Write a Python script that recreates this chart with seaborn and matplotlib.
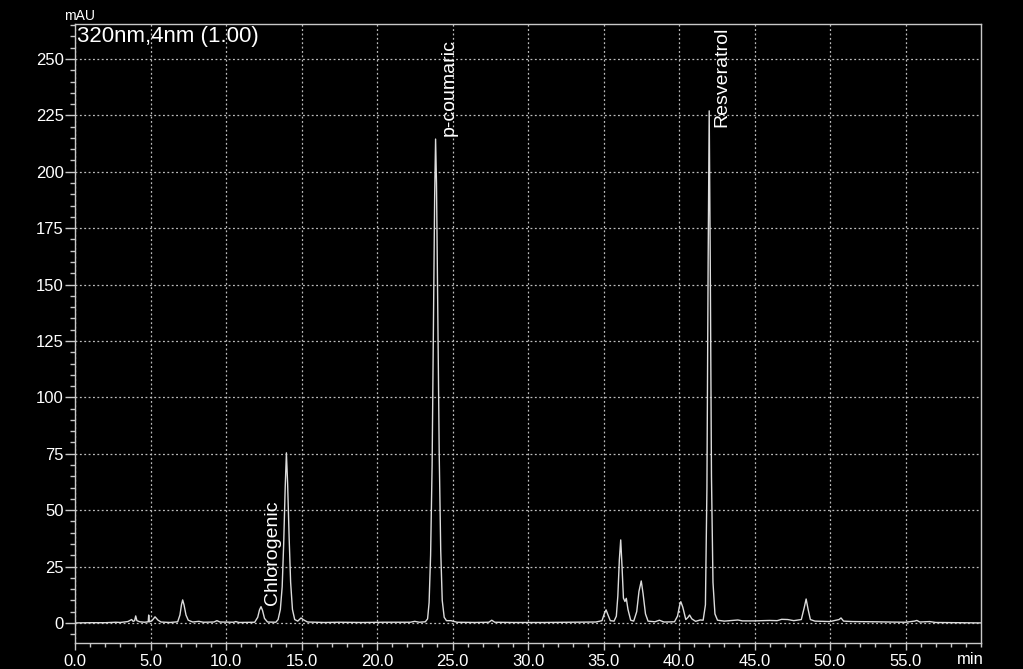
import matplotlib
matplotlib.use("Agg")
import matplotlib.pyplot as plt
import seaborn as sns
import pandas as pd
from matplotlib.ticker import MultipleLocator, FixedLocator, FixedFormatter

# ---- data ----
time_min = [
    0.0, 1.0, 2.0, 2.7, 3.0, 3.5, 3.75, 3.85, 3.95, 4.02, 4.1, 4.3, 4.6, 4.85, 4.88, 4.92,
    5.1, 5.3, 5.5, 5.7, 6.3, 6.8, 6.95, 7.05, 7.13, 7.22, 7.35, 7.5, 7.8, 8.2, 8.5, 9.2,
    9.4, 9.6, 10.5, 10.65, 10.85, 11.9, 12.1, 12.22, 12.32, 12.42, 12.55, 12.75, 13.3, 13.45,
    13.6, 13.72, 13.82, 13.92, 14.0, 14.08, 14.18, 14.28, 14.4, 14.55, 14.75, 14.9, 14.97, 15.1,
    15.4, 16.5, 17.5, 19.0, 20.5, 22.2, 22.5, 22.8, 23.2, 23.35, 23.45, 23.55, 23.65, 23.75,
    23.82, 23.88, 23.94, 24.02, 24.12, 24.22, 24.32, 24.45, 24.6, 24.9, 25.3, 26.5, 27.4, 27.6,
    27.8, 29.0, 31.0, 33.0, 34.5, 34.9, 35.05, 35.17, 35.3, 35.45, 35.7, 35.85, 35.95, 36.05,
    36.14, 36.22, 36.32, 36.42, 36.51, 36.62, 36.8, 37.0, 37.2, 37.35, 37.5, 37.62, 37.78, 37.95,
    38.4, 38.7, 39.0, 39.7, 39.9, 40.05, 40.12, 40.25, 40.45, 40.6, 40.7, 40.85, 41.1, 41.4,
    41.6, 41.75, 41.85, 41.93, 42.0, 42.07, 42.15, 42.25, 42.38, 42.55, 43.0, 43.9, 44.2, 45.0,
    46.0, 46.5, 46.8, 47.2, 47.6, 48.1, 48.3, 48.42, 48.55, 48.7, 49.0, 50.0, 50.6, 50.73,
    50.9, 51.5, 53.0, 55.0, 55.6, 55.75, 55.95, 56.6, 57.0, 58.5, 60.0,
]
absorbance_mau = [
    0.0, 0.1, 0.1, 0.3, 0.2, 0.6, 1.5, 0.7, 1.0, 3.1, 1.0, 0.5, 0.3, 0.5, 3.5, 0.5,
    1.0, 2.7, 1.2, 0.4, 0.2, 0.5, 3.5, 8.0, 10.2, 8.0, 3.5, 1.2, 0.4, 0.7, 0.3, 0.4,
    1.0, 0.4, 0.3, 0.6, 0.2, 0.3, 2.5, 5.8, 7.2, 5.5, 2.0, 0.4, 0.3, 1.5,
    6.0, 16.0, 35.0, 60.0, 75.4, 62.0, 38.0, 18.0, 6.0, 1.5, 0.8, 1.8, 2.2, 1.5,
    0.4, 0.2, 0.3, 0.2, 0.3, 0.3, 0.7, 0.3, 0.5, 1.8, 9.0, 30.0, 70.0, 140.0,
    190.0, 214.5, 195.0, 140.0, 75.0, 32.0, 10.0, 2.5, 1.0, 1.0, 0.3, 0.2, 0.3, 1.2,
    0.3, 0.2, 0.2, 0.3, 0.4, 1.0, 4.0, 5.8, 3.5, 1.0, 0.8, 3.0, 12.0, 28.0,
    36.8, 26.0, 11.0, 9.5, 10.9, 6.0, 1.2, 0.8, 5.0, 14.0, 18.6, 13.0, 4.0, 0.8,
    0.5, 1.2, 0.4, 0.5, 3.0, 8.0, 9.4, 7.0, 1.5, 2.5, 3.5, 1.8, 0.7, 1.3,
    1.2, 8.0, 60.0, 160.0, 227.0, 160.0, 65.0, 18.0, 4.0, 1.2, 0.8, 1.3, 0.9, 0.9,
    1.1, 1.0, 1.6, 1.5, 1.0, 1.5, 7.0, 10.6, 6.0, 1.5, 0.8, 0.6, 1.5, 2.2,
    0.8, 0.6, 0.5, 0.3, 0.8, 1.1, 0.4, 0.6, 0.2, 0.1, 0.0,
]
peak_names = ["Chlorogenic", "p-coumaric", "Resveratrol"]
peak_label_x = [13.1, 24.8, 42.85]
peak_label_y = [8.0, 216.0, 220.0]
x_ticks = [0, 5, 10, 15, 20, 25, 30, 35, 40, 45, 50, 55]
x_tick_labels = ["0.0", "5.0", "10.0", "15.0", "20.0", "25.0", "30.0",
                 "35.0", "40.0", "45.0", "50.0", "55.0"]
y_ticks = [0, 25, 50, 75, 100, 125, 150, 175, 200, 225, 250]
y_tick_labels = [str(v) for v in y_ticks]
title_text = "320nm,4nm (1.00)"
y_unit = "mAU"
x_unit = "min"

df = pd.DataFrame({"time": time_min, "mAU": absorbance_mau})

sns.set_theme(style="dark", rc={
    "axes.facecolor": "black", "figure.facecolor": "black",
    "axes.edgecolor": "#c8c8c8", "text.color": "white",
    "xtick.color": "#c8c8c8", "ytick.color": "#c8c8c8",
    "xtick.labelcolor": "white", "ytick.labelcolor": "white",
})
plt.rcParams["font.family"] = ["Liberation Sans", "DejaVu Sans"]

fig = plt.figure(figsize=(10.23, 6.69), dpi=100)
ax = fig.add_axes([75 / 1023, 26 / 669, 906 / 1023, 619 / 669])

sns.lineplot(data=df, x="time", y="mAU", ax=ax, color="#dcdcdc",
             linewidth=1.0, estimator=None, sort=False)

ax.set_xlim(0, 60)
ax.set_ylim(-8.9, 265.5)
ax.set_xlabel("")
ax.set_ylabel("")

ax.xaxis.set_major_locator(FixedLocator(x_ticks))
ax.xaxis.set_major_formatter(FixedFormatter(x_tick_labels))
ax.xaxis.set_minor_locator(MultipleLocator(1))
ax.yaxis.set_major_locator(FixedLocator(y_ticks))
ax.yaxis.set_major_formatter(FixedFormatter(y_tick_labels))
ax.yaxis.set_minor_locator(MultipleLocator(5))

ax.tick_params(axis="x", which="major", direction="out", length=5, width=1,
               pad=3, labelsize=12, bottom=True)
ax.tick_params(axis="x", which="minor", direction="out", length=3, width=1, bottom=True)
ax.tick_params(axis="y", which="major", direction="out", length=7, width=1,
               pad=1, labelsize=12, left=True)
ax.tick_params(axis="y", which="minor", direction="out", length=3.5, width=1, left=True)

for s in ax.spines.values():
    s.set_visible(True)
    s.set_color("#c8c8c8")
    s.set_linewidth(1.0)

ax.grid(True, which="major", axis="both", color="#bdbdbd",
        linestyle=(0, (1.5, 2)), linewidth=0.9)
ax.set_axisbelow(True)

for name, px, py in zip(peak_names, peak_label_x, peak_label_y):
    ax.text(px, py, name, rotation=90, ha="center", va="bottom",
            color="white", fontsize=14)

ax.text(0.002, 0.997, title_text, transform=ax.transAxes, ha="left", va="top",
        color="white", fontsize=16)
fig.text(64 / 1023, 1 - 16 / 669, y_unit, ha="left", va="center",
         color="white", fontsize=10)
fig.text(984 / 1023, 1 - 660 / 669, x_unit, ha="right", va="center",
         color="white", fontsize=12)

fig.savefig("out.png", dpi=100, facecolor="black")
